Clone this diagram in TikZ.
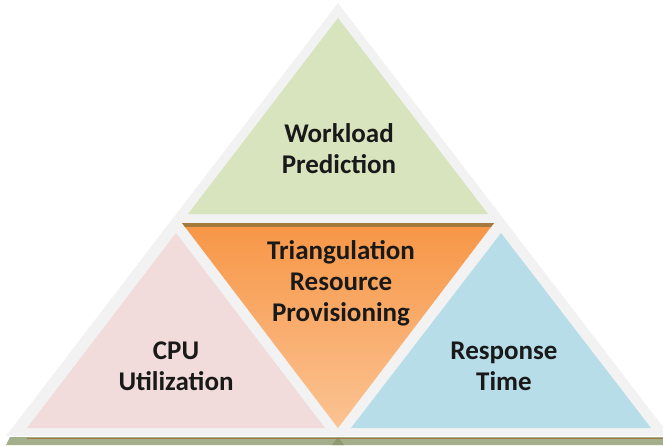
\documentclass[tikz,border=0pt]{standalone}
\usepackage{fontspec}
\setmainfont{Carlito}
\definecolor{bandgray}{HTML}{F2F2F2}
\definecolor{wlgreen}{HTML}{D7E4BD}
\definecolor{cpupink}{HTML}{F2DCDB}
\definecolor{rtblue}{HTML}{B7DDE8}
\definecolor{orangetop}{HTML}{F79646}
\definecolor{orangebot}{HTML}{FBC393}
\definecolor{brownline}{HTML}{A27A40}
\definecolor{olive}{HTML}{A3AF8A}
\definecolor{darkolive}{HTML}{8C9B72}
\tikzset{
  lbl/.style={font=\bfseries\fontsize{27}{31}\selectfont, align=center, inner sep=0pt, text=black!90},
}
\begin{document}
\begin{tikzpicture}[x=1pt,y=-1pt]
\useasboundingbox (0,0) rectangle (663,445);
% bottom strip (part of element below)
\fill[olive] (10,437) -- (663,437) -- (663,445) -- (6,445) -- cycle;
\fill[darkolive] (338,437) -- (344,445) -- (332,445) -- cycle;
\draw[brownline, line width=1.2pt] (27,438.5) -- (663,438.5);
% outer band
\fill[bandgray] (338,3) -- (670,436) -- (6,436) -- cycle;
% top triangle
\fill[wlgreen] (338,18) -- (488,214) -- (188,214) -- cycle;
% left triangle
\fill[cpupink] (176,233) -- (325,428) -- (27,428) -- cycle;
% right triangle
\fill[rtblue] (501,233) -- (651,428) -- (351,428) -- cycle;
% centre inverted triangle
\shade[top color=orangetop, bottom color=orangebot] (182,223) -- (494,223) -- (338,428) -- cycle;
\begin{scope}
\clip (182,223) -- (494,223) -- (338,428) -- cycle;
\fill[brownline] (170,223) rectangle (506,226.5);
\end{scope}
% labels
\node[lbl] (wp) at (339,149) {Workload\\Prediction};
\node[lbl] (trp) at (341,283) {Triangulation\\Resource\\Provisioning};
\node[lbl] (cpu) at (176,366) {CPU\\Utilization};
\node[lbl] (rt) at (504,366) {Response\\Time};
\end{tikzpicture}
\end{document}
